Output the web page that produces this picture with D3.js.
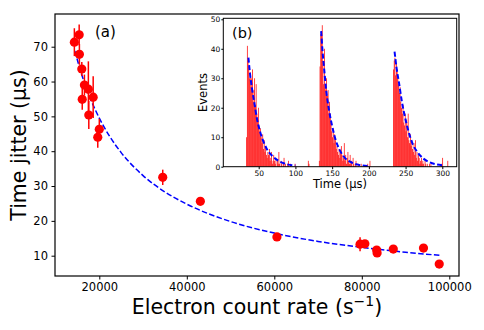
<!DOCTYPE html>
<html>
<head>
<meta charset="utf-8">
<script src="https://cdn.jsdelivr.net/npm/d3@7"></script>
<style>
  body { margin: 0; background: #fff; }
  svg text { font-family: "DejaVu Sans", sans-serif; fill: #000; }
</style>
</head>
<body>
<div id="chart"></div>
<script>
// main panel (a): jitter vs electron count rate
const rate   = [14300, 15400, 15450, 16000, 16600, 17500, 16100, 18600, 17600, 20000, 19650, 34500, 43100, 60600, 79600, 80700, 83400, 83500, 87200, 94100, 97700];
const jitter = [71.3, 73.4, 67.8, 63.6, 59.0, 57.8, 54.9, 55.5, 50.4, 46.3, 44.0, 32.5, 25.6, 15.4, 13.3, 13.4, 11.6, 10.8, 11.9, 12.2, 7.6];
const jitterErr = [4, 3, 3, 2, 3, 8, 3, 6, 4, 3, 3, 2.2, 1, 0.8, 2, 1, 0.8, 0.8, 0.8, 0.8, 0.6];

const fitRate   = [14400, 16000, 18000, 20000, 22500, 25000, 30000, 35000, 40000, 50000, 60000, 70000, 80000, 90000, 97800];
const fitJitter = [68.8, 61.9, 55.0, 49.5, 44.0, 39.6, 33.0, 28.3, 24.8, 19.8, 16.5, 14.1, 12.4, 11.0, 10.1];

const xTicks = [20000, 40000, 60000, 80000, 100000];
const yTicks = [10, 20, 30, 40, 50, 60, 70];

// inset (b): arrival time histograms, 1 us bins
const hist1Start = 33;
const hist1 = [10, 41, 36, 34, 30, 32, 27, 30, 33, 22, 26, 30, 21, 28, 18, 16, 20, 14, 12, 13, 10, 8, 11, 6, 9, 5, 7, 4, 3, 5, 4, 6, 2, 3, 5, 1, 2, 4, 2, 1, 3, 0, 2, 1, 5, 1, 0, 2, 1, 0, 1, 3, 0, 1, 0, 0, 1, 2, 0, 0, 1, 0, 0, 0, 0, 0, 1, 0,
               0, 0, 0, 0, 0, 0, 0, 0, 0, 0, 0, 0, 0, 0, 0, 0, 2, 1];
const hist2Start = 132;
const hist2 = [2, 34, 45, 46, 48, 36, 28, 40, 27, 26, 30, 24, 26, 18, 22, 18, 15, 12, 10, 13, 8, 11, 9, 6, 7, 5, 4, 6, 3, 5, 7, 4, 2, 3, 8, 2, 4, 1, 3, 5, 2, 1, 4, 1, 2, 0, 3, 1, 0, 1, 2, 0, 0, 1, 0, 0, 0, 1, 0, 0, 0, 0, 0, 0, 0, 0, 1, 0, 0, 2];
const hist3Start = 233;
const hist3 = [33, 36, 37, 31, 35, 33, 30, 28, 25, 27, 22, 20, 18, 21, 15, 14, 18, 12, 16, 10, 18, 9, 8, 11, 7, 9, 6, 5, 8, 4, 9, 3, 5, 2, 4, 3, 1, 2, 3, 1, 2, 1, 0, 2, 1, 0, 1, 0, 0, 1, 0, 1, 0, 0, 0, 0, 0, 0, 0, 0, 0, 0, 0, 0, 0, 1, 0, 3, 0, 0, 0, 0, 0, 0, 2];

const fit1T = [36, 38, 41, 44, 48, 52, 57, 62, 68, 75, 85, 100];
const fit1E = [37, 31.9, 26.3, 21.7, 15.8, 11.8, 8.2, 5.6, 3.8, 2.3, 1.1, 0.4];
const fit2T = [135, 137, 139, 142, 146, 150, 155, 160, 167, 175, 185, 200];
const fit2E = [46, 39, 33.5, 25.7, 18.8, 13.8, 8.9, 5.8, 3.1, 1.6, 0.7, 0.2];
const fit3T = [235, 238, 241, 245, 249, 254, 260, 266, 274, 283, 292, 300];
const fit3E = [39, 33, 28.5, 22, 17, 12, 7.5, 5, 2.8, 1.5, 0.8, 0.5];

const insetXTicks = [50, 100, 150, 200, 250, 300];
const insetYTicks = [0, 10, 20, 30, 40, 50];

const W = 484, H = 330;
const main = {left: 55, right: 459, top: 14, bottom: 276};
const inset = {left: 223.3, right: 456.7, top: 18.3, bottom: 166.7};

const svg = d3.select("#chart").append("svg")
    .attr("width", W).attr("height", H);

const xScale = d3.scaleLinear().domain([9874, 102217]).range([main.left, main.right]);
const yScale = d3.scaleLinear().domain([4.17, 79.39]).range([main.bottom, main.top]);

// axes
const xAxis = d3.axisBottom(xScale).tickValues(xTicks).tickSize(3.5).tickPadding(3.5).tickFormat(d3.format("d"));
const yAxis = d3.axisLeft(yScale).tickValues(yTicks).tickSize(3.5).tickPadding(3.5);

svg.append("g").attr("transform", `translate(0,${main.bottom})`).call(xAxis)
    .call(g => g.select(".domain").remove())
    .call(g => g.selectAll("text").attr("font-size", 11.5).attr("fill", "#000"));
svg.append("g").attr("transform", `translate(${main.left},0)`).call(yAxis)
    .call(g => g.select(".domain").remove())
    .call(g => g.selectAll("text").attr("font-size", 11.5).attr("fill", "#000"));

// fit curve
const pts = rate.map((r, i) => ({x: r, y: jitter[i], e: jitterErr[i]}));
const fitPts = fitRate.map((r, i) => ({x: r, y: fitJitter[i]}));

svg.append("path")
    .datum(fitPts)
    .attr("fill", "none")
    .attr("stroke", "#0000ff")
    .attr("stroke-width", 1.5)
    .attr("stroke-dasharray", "5.5,2.4")
    .attr("d", d3.line().curve(d3.curveMonotoneX).x(d => xScale(d.x)).y(d => yScale(d.y)));

// error bars + markers
svg.selectAll(".err")
    .data(pts)
    .join("line")
    .attr("x1", d => xScale(d.x)).attr("x2", d => xScale(d.x))
    .attr("y1", d => yScale(d.y - d.e)).attr("y2", d => yScale(d.y + d.e))
    .attr("stroke", "#ff0000")
    .attr("stroke-width", 1.5);

svg.selectAll(".pt")
    .data(pts)
    .join("circle")
    .attr("cx", d => xScale(d.x))
    .attr("cy", d => yScale(d.y))
    .attr("r", 4.6)
    .attr("fill", "#ff0000");

// frame
svg.append("rect")
    .attr("x", main.left).attr("y", main.top)
    .attr("width", main.right - main.left).attr("height", main.bottom - main.top)
    .attr("fill", "none").attr("stroke", "#000").attr("stroke-width", 1.2);

svg.append("text").attr("x", 95).attr("y", 37).attr("font-size", 15).text("(a)");

svg.append("text")
    .attr("x", (main.left + main.right) / 2).attr("y", 314)
    .attr("text-anchor", "middle").attr("font-size", 20.5)
    .html('Electron count rate (s<tspan dy="-8" font-size="14">\u22121</tspan><tspan dy="8">)</tspan>');

svg.append("text")
    .attr("transform", `translate(26,${(main.top + main.bottom) / 2}) rotate(-90)`)
    .attr("text-anchor", "middle").attr("font-size", 20.5)
    .text("Time jitter (\u03bcs)");

// inset
const ix = d3.scaleLinear().domain([1.8, 319.6]).range([inset.left, inset.right]);
const iy = d3.scaleLinear().domain([0, 50.34]).range([inset.bottom, inset.top]);

svg.append("rect")
    .attr("x", inset.left).attr("y", inset.top)
    .attr("width", inset.right - inset.left).attr("height", inset.bottom - inset.top)
    .attr("fill", "#fff");

const bars = [];
[[hist1Start, hist1], [hist2Start, hist2], [hist3Start, hist3]].forEach(([s, arr]) => {
    arr.forEach((v, i) => { if (v > 0) bars.push({t: s + i, n: v}); });
});

svg.selectAll(".bar")
    .data(bars)
    .join("rect")
    .attr("x", d => ix(d.t))
    .attr("width", d => ix(d.t + 1) - ix(d.t))
    .attr("y", d => iy(d.n))
    .attr("height", d => iy(0) - iy(d.n))
    .attr("fill", "#ff0000");

const insetLine = d3.line().curve(d3.curveMonotoneX).x(d => ix(d.t)).y(d => iy(d.e));
[[fit1T, fit1E], [fit2T, fit2E], [fit3T, fit3E]].forEach(([ts, es]) => {
    svg.append("path")
        .datum(ts.map((t, i) => ({t: t, e: es[i]})))
        .attr("fill", "none")
        .attr("stroke", "#0000ff")
        .attr("stroke-width", 2)
        .attr("stroke-dasharray", "5,2.5")
        .attr("d", insetLine);
});

svg.append("g").attr("transform", `translate(0,${inset.bottom})`)
    .call(d3.axisBottom(ix).tickValues(insetXTicks).tickSize(2.5).tickPadding(1))
    .call(g => g.select(".domain").remove())
    .call(g => g.selectAll("text").attr("font-size", 7.5).attr("fill", "#000"));
svg.append("g").attr("transform", `translate(${inset.left},0)`)
    .call(d3.axisLeft(iy).tickValues(insetYTicks).tickSize(2).tickPadding(1))
    .call(g => g.select(".domain").remove())
    .call(g => g.selectAll("text").attr("font-size", 7.5).attr("fill", "#000"));

svg.append("rect")
    .attr("x", inset.left).attr("y", inset.top)
    .attr("width", inset.right - inset.left).attr("height", inset.bottom - inset.top)
    .attr("fill", "none").attr("stroke", "#000").attr("stroke-width", 1);

svg.append("text").attr("x", 232).attr("y", 37.5).attr("font-size", 14.5).text("(b)");

svg.append("text")
    .attr("x", (inset.left + inset.right) / 2).attr("y", 187.5)
    .attr("text-anchor", "middle").attr("font-size", 11.5)
    .text("Time (\u03bcs)");

svg.append("text")
    .attr("transform", `translate(207,${(inset.top + inset.bottom) / 2}) rotate(-90)`)
    .attr("text-anchor", "middle").attr("font-size", 11.5)
    .text("Events");
</script>
</body>
</html>
